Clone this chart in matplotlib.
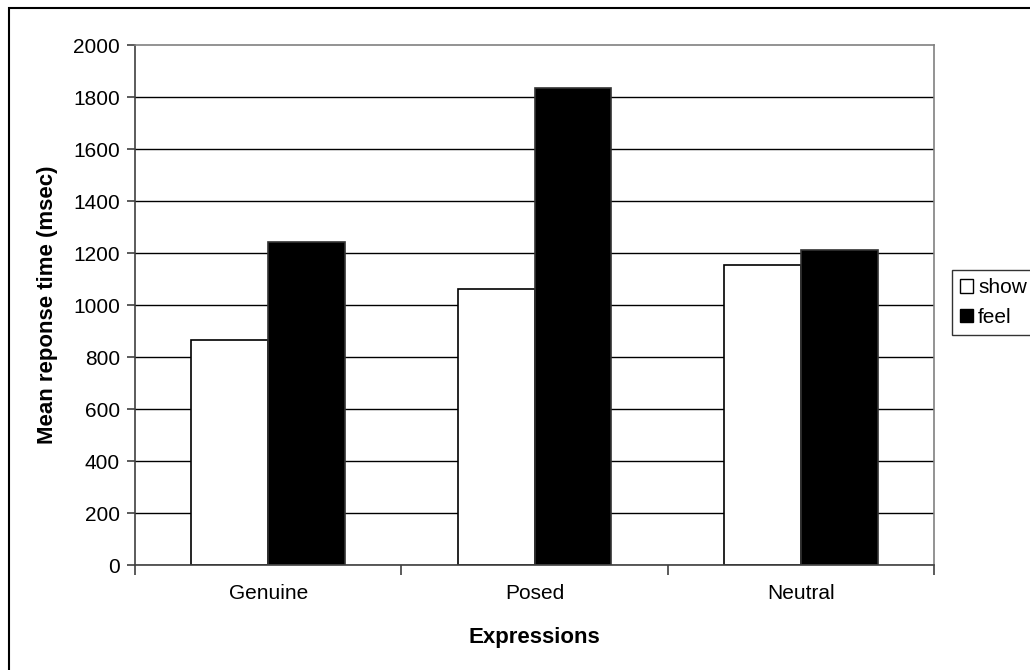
import matplotlib.pyplot as plt
from matplotlib.patches import Patch, Rectangle
import numpy as np

plt.rcParams['font.family'] = ['Liberation Sans', 'DejaVu Sans']

# Mean response times per expression type
categories = ['Genuine', 'Posed', 'Neutral']
show = [865, 1060, 1152]
feel = [1243, 1833, 1212]
yticks = [0, 200, 400, 600, 800, 1000, 1200, 1400, 1600, 1800, 2000]

fig = plt.figure(figsize=(10.3, 6.7), dpi=100)
ax = fig.add_axes([0.1311, 0.1567, 0.7757, 0.7761])

x = np.arange(len(categories))
w = 0.288

# horizontal gridlines behind the bars
for v in yticks[:-1]:
    ax.axhline(v, color='black', lw=1, zorder=1)

ax.bar(x - w / 2, show, w, color='white', edgecolor='black', lw=1.2, zorder=2)
ax.bar(x + w / 2, feel, w, color='black', edgecolor='#333333', lw=1.2, zorder=2)

ax.set_xlim(-0.5, 2.5)
ax.set_ylim(0, 2000)
ax.set_yticks(yticks)
ax.set_xticks(x)
ax.set_xticklabels(categories, fontsize=15)
ax.set_xticks([-0.5, 0.5, 1.5, 2.5], minor=True)
ax.tick_params(axis='x', which='major', length=0, pad=14)
ax.tick_params(axis='x', which='minor', length=7, width=1.2, color='#404040')
ax.tick_params(axis='y', length=6, width=1.2, color='#404040', labelsize=15, pad=5)

for side in ['left', 'bottom']:
    ax.spines[side].set_color('#404040')
    ax.spines[side].set_linewidth(1.2)
for side in ['top', 'right']:
    ax.spines[side].set_color('#808080')
    ax.spines[side].set_linewidth(1.2)

ax.set_ylabel('Mean reponse time (msec)', fontsize=16, fontweight='bold', labelpad=11)
ax.set_xlabel('Expressions', fontsize=16, fontweight='bold', labelpad=17)

handles = [Patch(facecolor='white', edgecolor='black', lw=1),
           Patch(facecolor='black', edgecolor='black', lw=1)]
leg = fig.legend(handles, ['show', 'feel'], loc='upper left',
                 bbox_to_anchor=(952 / 1030, 1 - 270 / 670),
                 fontsize=15, frameon=True, fancybox=False,
                 handlelength=0.6, handleheight=0.6, handletextpad=0.25,
                 borderpad=0.4, labelspacing=0.5, borderaxespad=0)
leg.get_frame().set_edgecolor('black')
leg.get_frame().set_linewidth(1)

# outer chart border
fig.patches.append(Rectangle((9 / 1030, -0.05), 1.1, 1 - 8 / 670 + 0.05,
                             transform=fig.transFigure, fill=False,
                             edgecolor='black', lw=1.5))

fig.savefig('out.png', dpi=100)
